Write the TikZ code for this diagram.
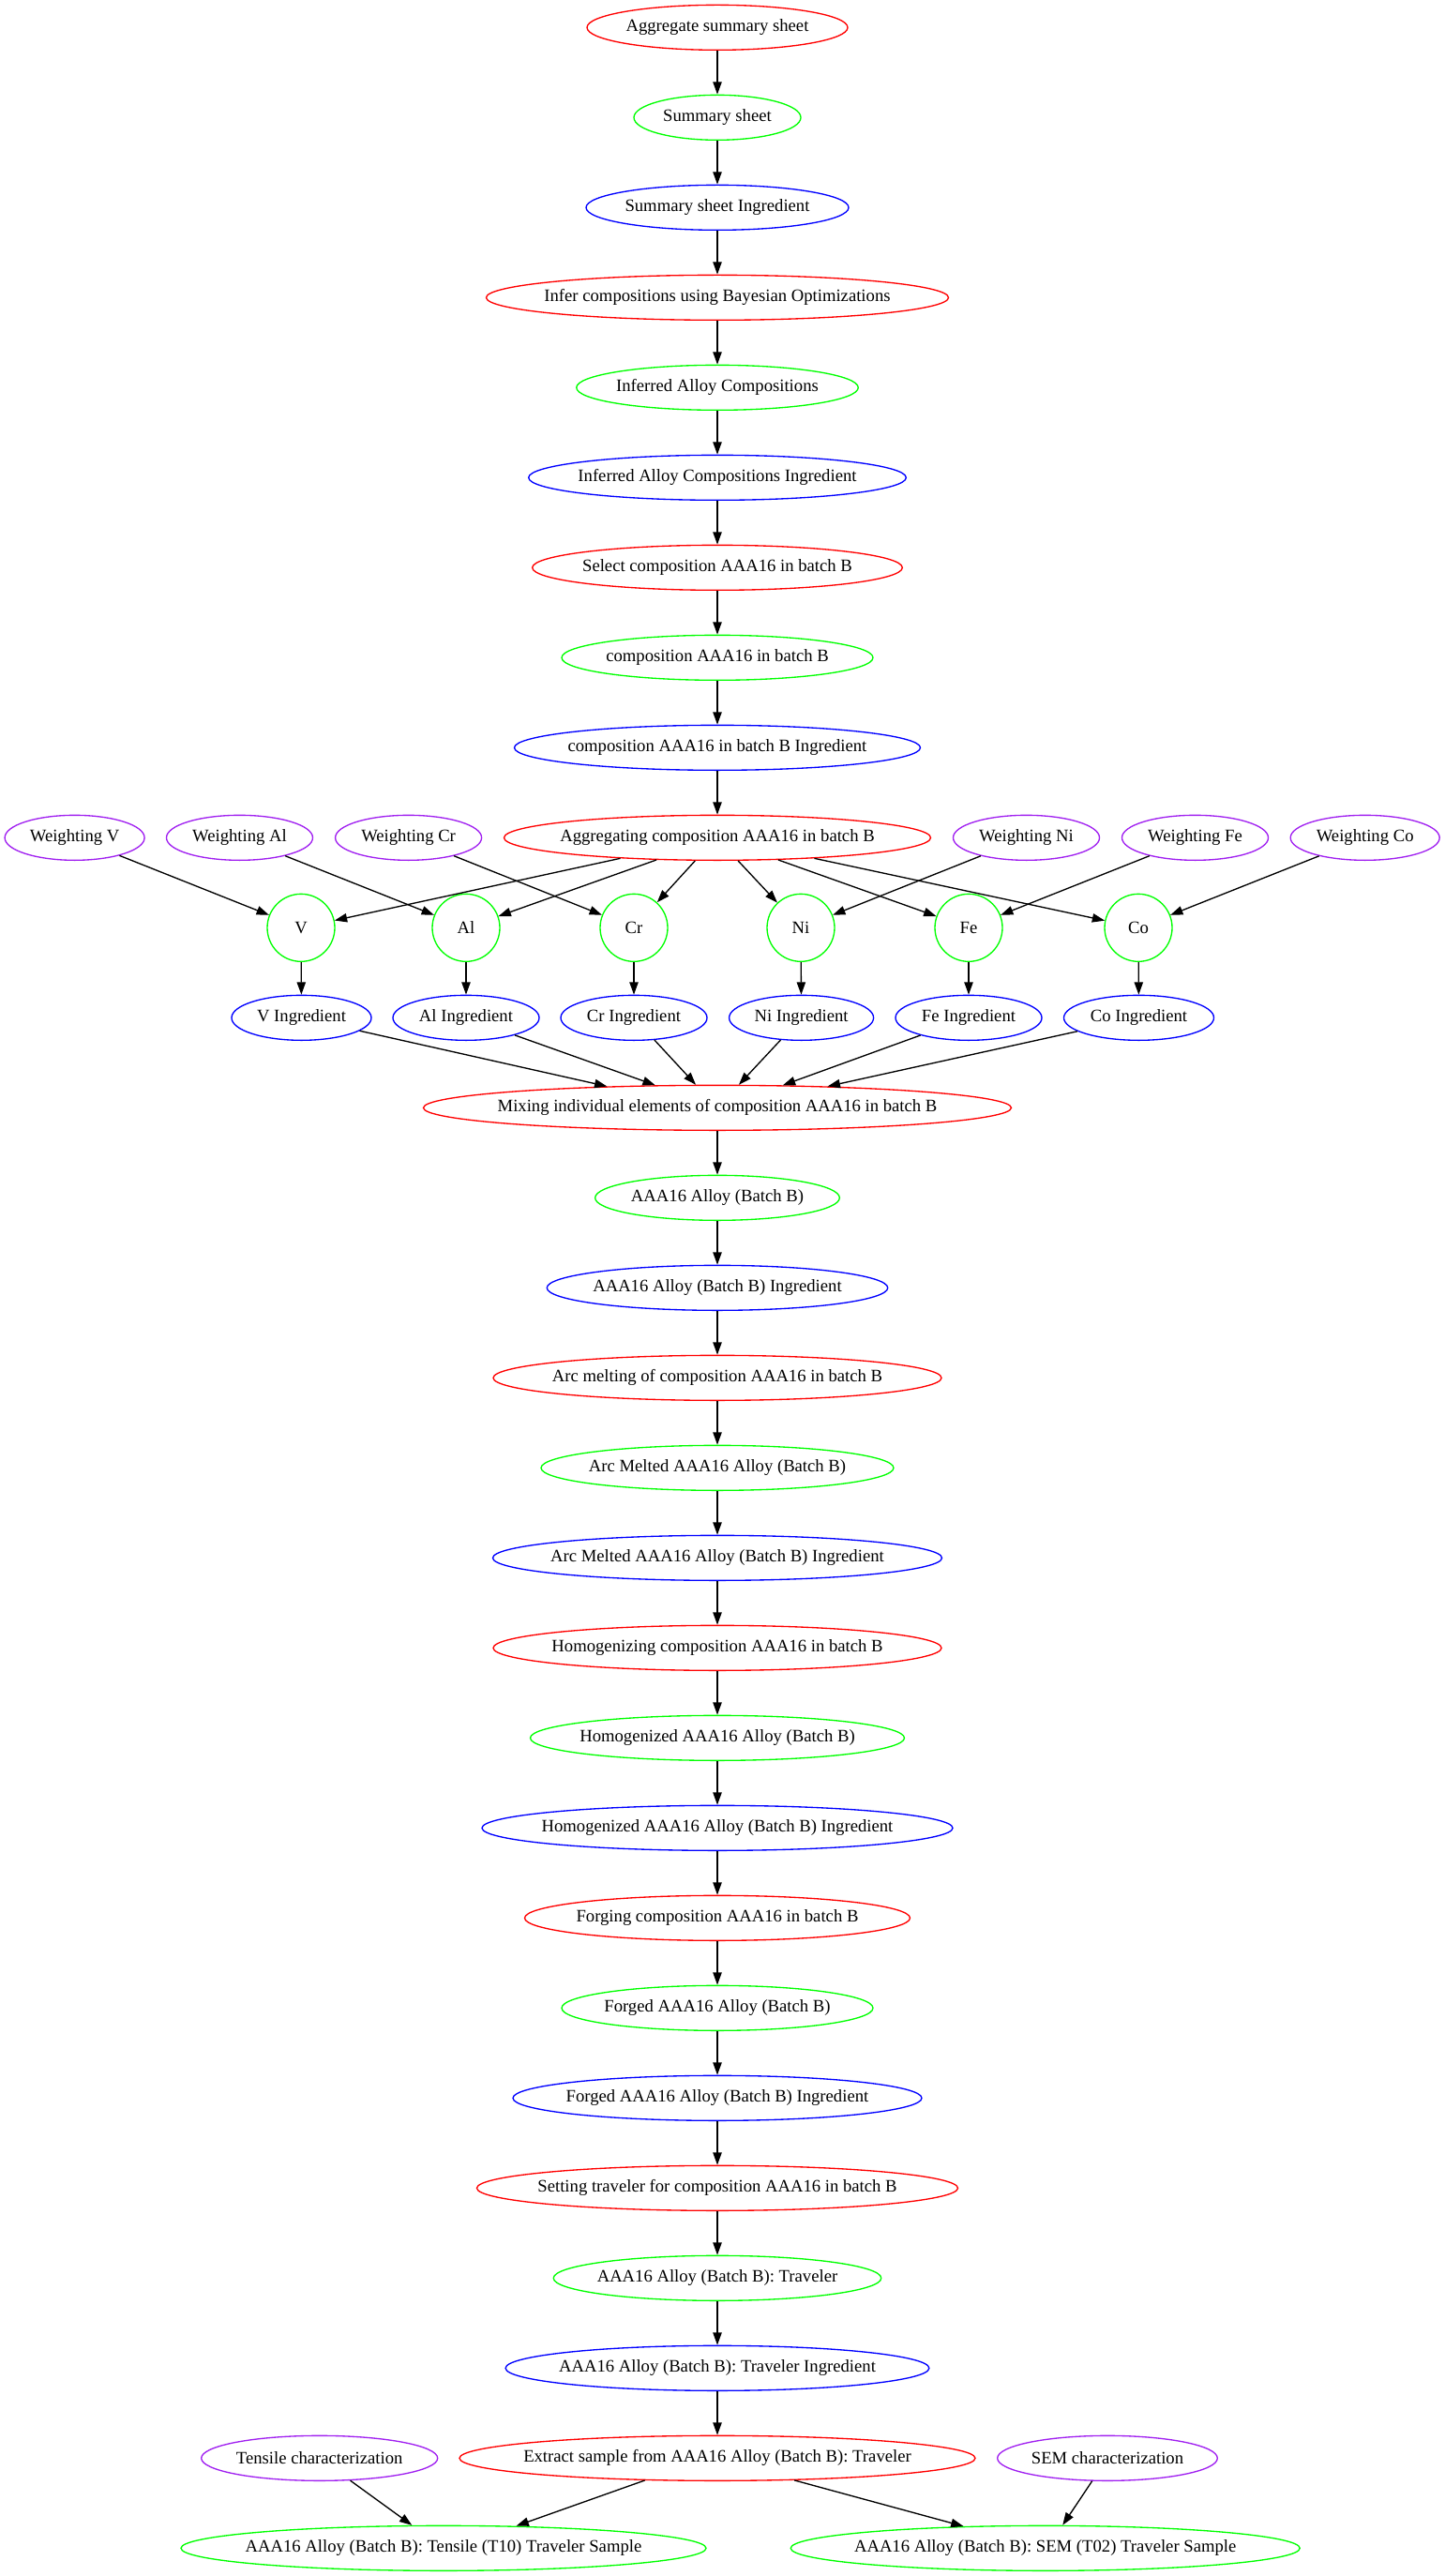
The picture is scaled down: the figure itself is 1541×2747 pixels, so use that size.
\documentclass[tikz,border=0pt]{standalone}
\usepackage{fontspec}
\setmainfont{Liberation Serif}
\usetikzlibrary{shapes.geometric,arrows.meta}
\definecolor{gvred}{RGB}{255,0,0}
\definecolor{gvgreen}{RGB}{0,255,0}
\definecolor{gvblue}{RGB}{0,0,255}
\definecolor{gvpurple}{RGB}{160,32,240}
% zero-width label box so the ellipse size comes from minimum width only
\newcommand\lbl[1]{\makebox[0pt]{#1}}

\begin{document}
\begin{tikzpicture}[x=0.75pt,y=-0.75pt,
  gvnode/.style={ellipse,draw,line width=1pt,inner sep=0pt,minimum height=36pt,
                 font=\fontsize{14}{16}\selectfont},
  proc/.style={gvnode,draw=gvred},
  mat/.style={gvnode,draw=gvgreen},
  ingr/.style={gvnode,draw=gvblue},
  meas/.style={gvnode,draw=gvpurple},
  elem/.style={gvnode,draw=gvgreen,minimum width=54pt,minimum height=54pt},
  wd/.style={minimum width=#1*0.75pt},
  conn/.style={-{Triangle[length=10pt,width=7pt]},line width=1pt,black}
]
\useasboundingbox (0,0) rectangle (1541,2747);

% main chain
\node[proc,wd=278]   (ags)   at (765,29.33)   {\lbl{Aggregate summary sheet}};
\node[mat,wd=178]    (ss)    at (765,125.33)  {\lbl{Summary sheet}};
\node[ingr,wd=280]   (ssi)   at (765,221.33)  {\lbl{Summary sheet Ingredient}};
\node[proc,wd=493]   (inf)   at (765,317.33)  {\lbl{Infer compositions using Bayesian Optimizations}};
\node[mat,wd=300.5]  (iac)   at (765,413.33)  {\lbl{Inferred Alloy Compositions}};
\node[ingr,wd=402.6] (iaci)  at (765,509.33)  {\lbl{Inferred Alloy Compositions Ingredient}};
\node[proc,wd=394.6] (sel)   at (765,605.33)  {\lbl{Select composition AAA16 in batch B}};
\node[mat,wd=332]    (comp)  at (765,701.33)  {\lbl{composition AAA16 in batch B}};
\node[ingr,wd=433]   (compi) at (765,797.33)  {\lbl{composition AAA16 in batch B Ingredient}};
\node[proc,wd=455]   (agg)   at (765,893.33)  {\lbl{Aggregating composition AAA16 in batch B}};

% weightings
\node[meas,wd=149] (wV)  at (79.6,893.33)   {\lbl{Weighting V}};
\node[meas,wd=156] (wAl) at (255.5,893.33)  {\lbl{Weighting Al}};
\node[meas,wd=156] (wCr) at (435.6,893.33)  {\lbl{Weighting Cr}};
\node[meas,wd=156] (wNi) at (1094.5,893.33) {\lbl{Weighting Ni}};
\node[meas,wd=156] (wFe) at (1274.5,893.33) {\lbl{Weighting Fe}};
\node[meas,wd=159] (wCo) at (1455.7,893.33) {\lbl{Weighting Co}};

% elements
\node[elem] (eV)  at (321,989.33)  {\lbl{V}};
\node[elem] (eAl) at (497,989.33)  {\lbl{Al}};
\node[elem] (eCr) at (676,989.33)  {\lbl{Cr}};
\node[elem] (eNi) at (854,989.33)  {\lbl{Ni}};
\node[elem] (eFe) at (1033,989.33) {\lbl{Fe}};
\node[elem] (eCo) at (1214,989.33) {\lbl{Co}};

% element ingredients
\node[ingr,wd=149] (iV)  at (321.5,1085.33)  {\lbl{V Ingredient}};
\node[ingr,wd=156] (iAl) at (497,1085.33)    {\lbl{Al Ingredient}};
\node[ingr,wd=156] (iCr) at (676,1085.33)    {\lbl{Cr Ingredient}};
\node[ingr,wd=154] (iNi) at (854.6,1085.33)  {\lbl{Ni Ingredient}};
\node[ingr,wd=156] (iFe) at (1033,1085.33)   {\lbl{Fe Ingredient}};
\node[ingr,wd=160] (iCo) at (1214.5,1085.33) {\lbl{Co Ingredient}};

% processing chain
\node[proc,wd=627]   (mix)   at (765,1181.33) {\lbl{Mixing individual elements of composition AAA16 in batch B}};
\node[mat,wd=260.7]  (alloy) at (765,1277.33) {\lbl{AAA16 Alloy (Batch B)}};
\node[ingr,wd=363.5] (alloyi) at (765,1373.33) {\lbl{AAA16 Alloy (Batch B) Ingredient}};
\node[proc,wd=478]   (arc)   at (765,1469.33) {\lbl{Arc melting of composition AAA16 in batch B}};
\node[mat,wd=376]    (am)    at (765,1565.33) {\lbl{Arc Melted AAA16 Alloy (Batch B)}};
\node[ingr,wd=479]   (ami)   at (765,1661.33) {\lbl{Arc Melted AAA16 Alloy (Batch B) Ingredient}};
\node[proc,wd=478]   (hom)   at (765,1757.33) {\lbl{Homogenizing composition AAA16 in batch B}};
\node[mat,wd=399]    (hd)    at (765,1853.33) {\lbl{Homogenized AAA16 Alloy (Batch B)}};
\node[ingr,wd=502]   (hdi)   at (765,1949.33) {\lbl{Homogenized AAA16 Alloy (Batch B) Ingredient}};
\node[proc,wd=411]   (forg)  at (765,2045.33) {\lbl{Forging composition AAA16 in batch B}};
\node[mat,wd=332]    (fd)    at (765,2141.33) {\lbl{Forged AAA16 Alloy (Batch B)}};
\node[ingr,wd=436]   (fdi)   at (765,2237.33) {\lbl{Forged AAA16 Alloy (Batch B) Ingredient}};
\node[proc,wd=513]   (trav)  at (765,2333.33) {\lbl{Setting traveler for composition AAA16 in batch B}};
\node[mat,wd=349.5]  (tr)    at (765,2429.33) {\lbl{AAA16 Alloy (Batch B): Traveler}};
\node[ingr,wd=451.7] (tri)   at (765,2525.33) {\lbl{AAA16 Alloy (Batch B): Traveler Ingredient}};

% sampling
\node[proc,wd=550]   (ext) at (765,2621.33)    {\lbl{Extract sample from AAA16 Alloy (Batch B): Traveler}};
\node[meas,wd=252]   (tc)  at (340.7,2621.33)  {\lbl{Tensile characterization}};
\node[meas,wd=234.6] (sc)  at (1181,2621.33)   {\lbl{SEM characterization}};
\node[mat,wd=560]    (ts)  at (473,2717.33)    {\lbl{AAA16 Alloy (Batch B): Tensile (T10) Traveler Sample}};
\node[mat,wd=543]    (sms) at (1114.7,2717.33) {\lbl{AAA16 Alloy (Batch B): SEM (T02) Traveler Sample}};

% connectors along the main chain
\foreach \a/\b in {ags/ss,ss/ssi,ssi/inf,inf/iac,iac/iaci,iaci/sel,sel/comp,comp/compi,compi/agg,
                   mix/alloy,alloy/alloyi,alloyi/arc,arc/am,am/ami,ami/hom,hom/hd,hd/hdi,hdi/forg,
                   forg/fd,fd/fdi,fdi/trav,trav/tr,tr/tri,tri/ext}
  \draw[conn] (\a) -- (\b);

% aggregation fans out to the elements
\draw[conn] (agg.192.2) -- (eV);
\draw[conn] (agg.200.1) -- (eAl);
\draw[conn] (agg.226.6) -- (eCr);
\draw[conn] (agg.312.4) -- (eNi);
\draw[conn] (agg.340.5) -- (eFe);
\draw[conn] (agg.348.3) -- (eCo);

% weightings feed the elements
\foreach \e in {V,Al,Cr,Ni,Fe,Co}
  \draw[conn] (w\e) -- (e\e);

% elements to ingredients
\foreach \e in {V,Al,Cr,Ni,Fe,Co}
  \draw[conn] (e\e) -- (i\e);

% ingredients merge into mixing
\draw[conn] (iV)  -- (mix.169);
\draw[conn] (iAl) -- (mix.160.85);
\draw[conn] (iCr) -- (mix.133.2);
\draw[conn] (iNi) -- (mix.47.1);
\draw[conn] (iFe) -- (mix.19.1);
\draw[conn] (iCo) -- (mix.11.4);

% samples
\draw[conn] (ext.197.5) -- (ts.17.6);
\draw[conn] (tc) -- (ts.144.8);
\draw[conn] (ext.344.9) -- (sms.165.1);
\draw[conn] (sc) -- (sms.53.6);
\end{tikzpicture}
\end{document}
